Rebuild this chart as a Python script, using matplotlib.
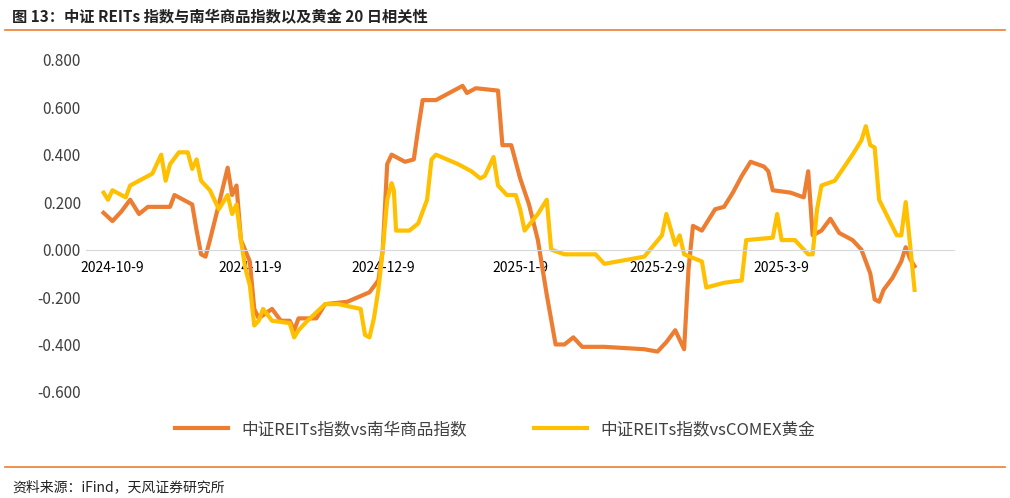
import matplotlib
matplotlib.use("Agg")
import matplotlib.pyplot as plt
from matplotlib.lines import Line2D

plt.rcParams['font.family'] = ['Noto Sans CJK SC', 'DejaVu Sans']

# days since 2024-10-9
o_days = [-2,0,2,4,6,8,13,14,18,19,20,21,22,24,26,27,28,29,31,32,33,36,38,40,41,42,46,48,53,58,60,61,62,63,66,68,69,70,73,76,79,80,82,87,88,90,92,94,96,98,100,102,104,106,111,120,123,125,127,129,130,131,133,136,138,140,142,144,147,148,149,153,156,157,158,160,162,164,167,169,171,172,173,174,176,178,179,180,181]
o_vals = [.155,.12,.16,.21,.15,.18,.18,.23,.19,.08,-.02,-.03,.04,.19,.345,.23,.27,.04,-.05,-.25,-.29,-.25,-.30,-.30,-.34,-.29,-.29,-.23,-.22,-.18,-.13,0,.36,.40,.37,.38,.51,.63,.63,.66,.69,.66,.68,.67,.44,.44,.30,.19,.04,-.19,-.40,-.40,-.37,-.41,-.41,-.42,-.43,-.39,-.34,-.42,-.08,.10,.08,.17,.18,.24,.31,.37,.35,.33,.25,.24,.22,.33,.06,.08,.13,.07,.04,0,-.10,-.21,-.22,-.17,-.12,-.05,.01,-.04,-.07]
y_days = [-2,-1,0,3,4,9,11,12,13,15,17,18,19,20,22,24,26,27,28,29,30,31,32,33,34,36,40,41,42,44,48,51,56,57,58,59,60,61,62,63,63.5,64,67,69,71,72,73,78,81,83,84,86,87,89,91,92,93,96,98,99,102,109,111,120,124,125,127,128,129,133,134,138,142,143,149,150,151,154,157,158,159,160,163,167,169,170,171,172,173,177,178,179,180,181]
y_vals = [.24,.21,.25,.22,.27,.32,.40,.29,.36,.41,.41,.34,.38,.29,.25,.17,.23,.15,.19,.04,-.08,-.15,-.32,-.30,-.25,-.30,-.31,-.37,-.34,-.30,-.23,-.23,-.25,-.36,-.37,-.29,-.17,0,.21,.28,.25,.08,.08,.11,.21,.38,.40,.36,.33,.30,.31,.39,.27,.23,.23,.17,.08,.15,.21,0,-.02,-.02,-.06,-.03,.06,.15,.02,.06,-.02,-.05,-.16,-.14,-.13,.04,.05,.15,.04,.04,-.02,-.02,.17,.27,.29,.40,.46,.52,.44,.43,.21,.06,.06,.20,.02,-.17]
tick_days = [0,31,61,92,123,151]
tick_labels = ['2024-10-9','2024-11-9','2024-12-9','2025-1-9','2025-2-9','2025-3-9']
yticks = [-0.6,-0.4,-0.2,0,0.2,0.4,0.6,0.8]
names = ['中证REITs指数vs南华商品指数','中证REITs指数vsCOMEX黄金']
colors = ['#ED7D31','#FFC000']

fig = plt.figure(figsize=(10.1,4.98), dpi=100)
ax = fig.add_axes([0.085,0.213,0.86,0.667])
ax.plot(o_days,o_vals,color=colors[0],lw=3,solid_joinstyle='round')
ax.plot(y_days,y_vals,color=colors[1],lw=3,solid_joinstyle='round')
ax.set_ylim(-0.6,0.8)
ax.set_xlim(-6,190)
ax.set_yticks(yticks)
ax.set_yticklabels([f'{v:.3f}' for v in yticks], fontsize=11, color='#404040')
ax.set_xticks(tick_days)
ax.set_xticklabels(tick_labels, fontsize=10.5, color='#404040')
for s in ['top','right','left']:
    ax.spines[s].set_visible(False)
ax.spines['bottom'].set_position(('data',0))
ax.spines['bottom'].set_color('#d9d9d9')
ax.tick_params(axis='both', length=0)
ax.tick_params(axis='x', pad=8)
handles=[Line2D([],[],color=c,lw=3) for c in colors]
fig.legend(handles,names,loc='center',bbox_to_anchor=(0.49,0.137),ncol=2,frameon=False,fontsize=12,
           handlelength=3.2,columnspacing=4,labelcolor='#404040')
fig.text(0.012,0.965,'图 13：中证 REITs 指数与南华商品指数以及黄金 20 日相关性',fontsize=11,fontweight='bold',va='center',color='#222222')
fig.add_artist(Line2D([0.005,0.995],[0.94,0.94],color='#ED7D31',lw=1.2,transform=fig.transFigure))
fig.add_artist(Line2D([0.005,0.995],[0.063,0.063],color='#ED7D31',lw=1.2,transform=fig.transFigure))
fig.text(0.012,0.022,'资料来源：iFind，天风证券研究所',fontsize=10,va='center',color='#222222')
fig.savefig('out.png',dpi=100)
